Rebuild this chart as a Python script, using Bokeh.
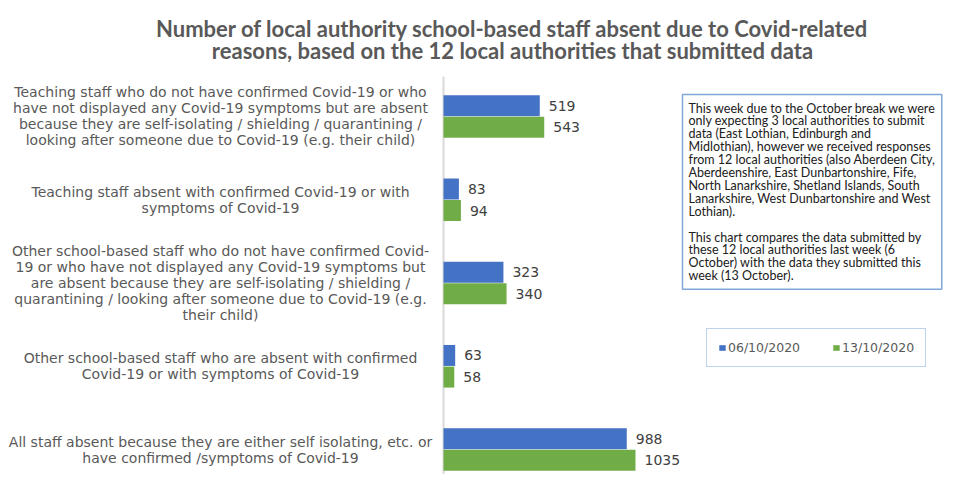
from bokeh.plotting import figure
from bokeh.models import ColumnDataSource, Range1d, Label, Legend, LegendItem
from bokeh.core.properties import value
from bokeh.embed import file_html
from bokeh.resources import INLINE

title_text = ("Number of local authority school-based staff absent due to Covid-related\n"
              "reasons, based on the 12 local authorities that submitted data")
categories = [
    "Teaching staff who do not have confirmed Covid-19 or who\nhave not displayed any Covid-19 symptoms but are absent\nbecause they are self-isolating / shielding / quarantining /\nlooking after someone due to Covid-19 (e.g. their child)",
    "Teaching staff absent with confirmed Covid-19 or with\nsymptoms of Covid-19",
    "Other school-based staff who do not have confirmed Covid-\n19 or who have not displayed any Covid-19 symptoms but\nare absent because they are self-isolating / shielding /\nquarantining / looking after someone due to Covid-19 (e.g.\ntheir child)",
    "Other school-based staff who are absent with confirmed\nCovid-19 or with symptoms of Covid-19",
    "All staff absent because they are either self isolating, etc. or\nhave confirmed /symptoms of Covid-19",
]
week_06_oct = [519, 83, 323, 63, 988]
week_13_oct = [543, 94, 340, 58, 1035]
series_labels = ["06/10/2020", "13/10/2020"]
note_text = (
    "This week due to the October break we were\n"
    "only expecting 3 local authorities to submit\n"
    "data (East Lothian, Edinburgh and\n"
    "Midlothian), however we received responses\n"
    "from 12 local authorities (also Aberdeen City,\n"
    "Aberdeenshire,  East Dunbartonshire, Fife,\n"
    "North Lanarkshire, Shetland Islands, South\n"
    "Lanarkshire, West Dunbartonshire and West\n"
    "Lothian).\n"
    "\n"
    "This chart compares the data submitted by\n"
    "these 12 local authorities last week (6\n"
    "October) with the data they submitted this\n"
    "week (13 October)."
)

BLUE = "#4472c4"
GREEN = "#70ad47"
GREY_TXT = "#595959"
BOX_BLUE = "#7fa7d9"

n = len(categories)
idx = list(range(n))
src = ColumnDataSource(dict(
    y=idx,
    cat=categories,
    y_a=[i - 0.13 for i in idx],
    y_b=[i + 0.13 for i in idx],
    a=week_06_oct,
    b=week_13_oct,
    a_txt=[str(v) for v in week_06_oct],
    b_txt=[str(v) for v in week_13_oct],
))

W, H = 950, 474
p = figure(width=W, height=H, output_backend="svg", toolbar_location=None,
           x_range=Range1d(-2388, 2733), y_range=Range1d(4.300, -1.393),
           x_axis_location=None, y_axis_location=None,
           min_border=0, outline_line_color=None,
           background_fill_color="white", border_fill_color="white")
p.xgrid.visible = False
p.ygrid.visible = False

# category axis line
p.segment(x0=[0], y0=[-0.48], x1=[0], y1=[n + 0.1],
          line_color="#d9d9d9", line_width=2)

r1 = p.hbar(y="y_a", left=0, right="a", height=0.252, source=src, fill_color=BLUE, line_color=None)
r2 = p.hbar(y="y_b", left=0, right="b", height=0.252, source=src, fill_color=GREEN, line_color=None)

for ycol, xcol, tcol in (("y_a", "a", "a_txt"), ("y_b", "b", "b_txt")):
    p.text(x=xcol, y=ycol, text=tcol, source=src, x_offset=9,
           text_align="left", text_baseline="middle",
           text_font=value("DejaVu Sans"), text_font_size="14px", text_color="#404040")

# category labels (centred lines, left of the axis)
p.text(x=0, y="y", text="cat", source=src, x_offset=-223,
       text_align="center", text_baseline="middle",
       text_font=value("DejaVu Sans"), text_font_size="14px", text_color=GREY_TXT,
       text_line_height=1.0)

p.add_layout(Label(x=512, y=H - 39, x_units="screen", y_units="screen",
                   text=title_text, text_align="center", text_baseline="middle",
                   text_font="Lato", text_font_style="bold", text_font_size="22px",
                   text_color=GREY_TXT, text_line_height=0.8))

p.add_layout(Label(x=682, y=H - 94, x_units="screen", y_units="screen",
                   text=note_text, text_align="left", text_baseline="top",
                   text_font="Lato", text_font_size="12.5px", text_color="#202020",
                   text_line_height=0.86, padding=6,
                   border_line_color=BOX_BLUE, border_line_width=1.5,
                   background_fill_color="white"))

legend = Legend(items=[LegendItem(label=series_labels[0], renderers=[r1]),
                       LegendItem(label=series_labels[1], renderers=[r2])],
                orientation="horizontal", location=(706, H - 367),
                glyph_width=8, glyph_height=7, label_standoff=2, spacing=32,
                padding=11, margin=0,
                label_text_font="DejaVu Sans", label_text_font_size="12.5px",
                label_text_color=GREY_TXT,
                border_line_color=BOX_BLUE, border_line_width=1.5,
                background_fill_color="white", background_fill_alpha=1)
p.add_layout(legend)

open("out.html", "w").write(file_html(p, INLINE))
